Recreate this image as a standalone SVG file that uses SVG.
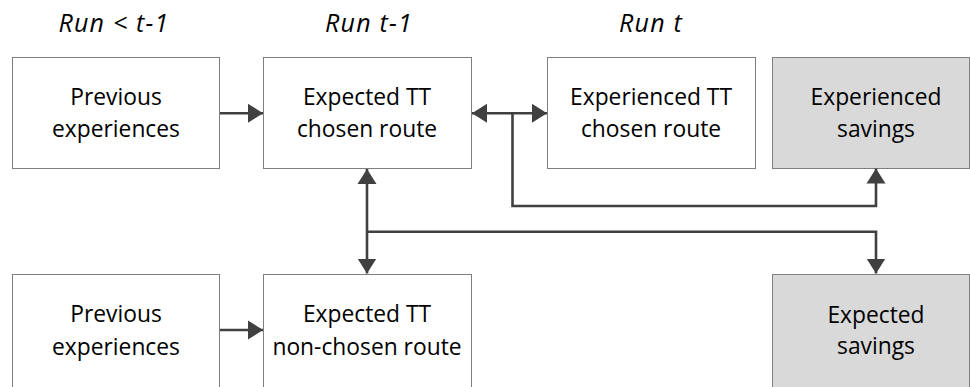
<svg xmlns="http://www.w3.org/2000/svg" width="970" height="387" viewBox="0 0 970 387">
  <style>
    .box { fill: #ffffff; stroke: #7f7f7f; stroke-width: 1; }
    .box.shade { fill: #d9d9d9; }
    .lbl { font-family: "Open Sans", "Liberation Sans", sans-serif; font-size: 22.8px; fill: #000000; text-anchor: middle; }
    .run { font-family: "Open Sans", "Liberation Sans", sans-serif; font-size: 25px; font-style: italic; letter-spacing: 1.2px; fill: #000000; text-anchor: middle; }
    .wire { fill: none; stroke: #404040; stroke-width: 2.6; }
  </style>
  <defs>
    <marker id="arrow" markerUnits="userSpaceOnUse" markerWidth="16" markerHeight="20" viewBox="0 0 16 20" refX="15" refY="10" orient="auto-start-reverse">
      <path d="M0,0.5 L15,10 L0,19.5 z" fill="#404040"/>
    </marker>
  </defs>

  <!-- column headings -->
  <text class="run" x="114" y="32">Run &lt; t-1</text>
  <text class="run" x="369" y="32">Run t-1</text>
  <text class="run" x="651" y="32">Run t</text>

  <g id="prev-chosen">
    <rect class="box" x="12.5" y="57.5" width="207" height="111"/>
    <text class="lbl" x="116" y="105">Previous</text>
    <text class="lbl" x="116" y="137">experiences</text>
  </g>
  <g id="expected-chosen">
    <rect class="box" x="263.5" y="57.5" width="208" height="111"/>
    <text class="lbl" x="367" y="105">Expected TT</text>
    <text class="lbl" x="367" y="137">chosen route</text>
  </g>
  <g id="experienced-chosen">
    <rect class="box" x="547.5" y="57.5" width="208" height="111"/>
    <text class="lbl" x="651" y="105">Experienced TT</text>
    <text class="lbl" x="651" y="137">chosen route</text>
  </g>
  <g id="experienced-savings">
    <rect class="box shade" x="772.5" y="57.5" width="197" height="111"/>
    <text class="lbl" x="876" y="105">Experienced</text>
    <text class="lbl" x="876" y="137">savings</text>
  </g>
  <g id="prev-nonchosen">
    <rect class="box" x="12.5" y="274.5" width="207" height="130"/>
    <text class="lbl" x="116" y="322">Previous</text>
    <text class="lbl" x="116" y="355">experiences</text>
  </g>
  <g id="expected-nonchosen">
    <rect class="box" x="263.5" y="274.5" width="208" height="130"/>
    <text class="lbl" x="367" y="322">Expected TT</text>
    <text class="lbl" x="367" y="355">non-chosen route</text>
  </g>
  <g id="expected-savings">
    <rect class="box shade" x="772.5" y="274.5" width="197" height="130"/>
    <text class="lbl" x="876" y="323">Expected</text>
    <text class="lbl" x="876" y="354">savings</text>
  </g>

  <g id="connectors">
    <line class="wire" x1="220" y1="113.3" x2="263" y2="113.3" marker-end="url(#arrow)"/>
    <line class="wire" x1="472" y1="113.3" x2="547" y2="113.3" marker-start="url(#arrow)" marker-end="url(#arrow)"/>
    <polyline class="wire" points="512.5,113.3 512.5,206 876,206 876,168.5" marker-end="url(#arrow)"/>
    <line class="wire" x1="367" y1="169" x2="367" y2="273.5" marker-start="url(#arrow)" marker-end="url(#arrow)"/>
    <polyline class="wire" points="367,231.7 876,231.7 876,273.5" marker-end="url(#arrow)"/>
    <line class="wire" x1="220" y1="330" x2="263" y2="330" marker-end="url(#arrow)"/>
  </g>
</svg>
